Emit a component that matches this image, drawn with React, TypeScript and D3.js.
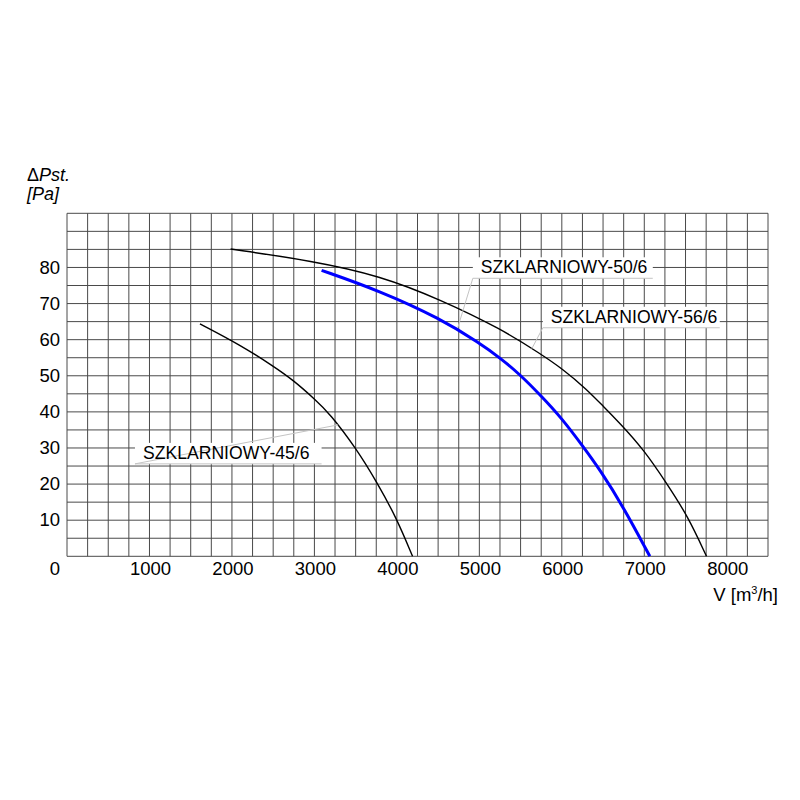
import { useEffect, useRef } from "react"
import * as d3 from "d3"

// flow [m3/h] and static pressure [Pa]
const fan45 = [
  [1612, 64.4], [2097, 58.6], [2500, 52.7], [2743, 48.8], [3000, 43.6], [3188, 39.5],
  [3503, 30.0], [3754, 20.7], [3996, 10.6], [4190, 0],
]
const fan50 = [
  [3087, 79.2], [3794, 73.5], [4521, 65.9], [5006, 59.0], [5248, 55.0], [5491, 50.4],
  [5754, 44.3], [5996, 38.3], [6258, 30.4], [6461, 24.0], [6743, 13.8], [7067, 0],
]
const fan56 = [
  [1984, 85.1], [2985, 81.8], [3794, 77.7], [4521, 71.2], [5269, 62.9], [5733, 56.2],
  [6016, 51.8], [6299, 46.3], [6501, 41.6], [6703, 36.9], [6995, 29.5], [7269, 20.3],
  [7531, 11.0], [7754, 0],
]

const xTicks = [1000, 2000, 3000, 4000, 5000, 6000, 7000, 8000]
const yTicks = [10, 20, 30, 40, 50, 60, 70, 80]

// label text, underline start/end (data x), underline level, leader target
const labels = [
  { text: "SZKLARNIOWY-45/6", x0: 824, x1: 3087, y: 25.6, tx: 3288, ty: 36.4 },
  { text: "SZKLARNIOWY-50/6", x0: 4921, x1: 7103, y: 77.0, tx: 4739, ty: 63.4 },
  { text: "SZKLARNIOWY-56/6", x0: 5770, x1: 7915, y: 63.3, tx: 5636, ty: 57.5 },
]

export default function App() {
  const svgRef = useRef<SVGSVGElement>(null)

  useEffect(() => {
    if (!svgRef.current) return
    const svg = d3.select(svgRef.current)
    svg.selectAll("*").remove()

    const left = 67, right = 768, top = 213.3, bottom = 556.3
    const x = d3.scaleLinear().domain([0, 8500]).range([left, right])
    const y = d3.scaleLinear().domain([0, 95]).range([bottom, top])
    const font = "'Liberation Sans', Arial, sans-serif"

    svg.append("rect").attr("width", 800).attr("height", 800).attr("fill", "#fff")

    const grid = svg.append("g").attr("stroke", "#4a4a4a").attr("stroke-width", 1)
    grid.selectAll(".gx")
      .data(d3.range(0, 8501, 250))
      .join("line")
      .attr("x1", (d) => x(d)).attr("x2", (d) => x(d))
      .attr("y1", top).attr("y2", bottom)
    grid.selectAll(".gy")
      .data(d3.range(0, 96, 5))
      .join("line")
      .attr("x1", left).attr("x2", right)
      .attr("y1", (d) => y(d)).attr("y2", (d) => y(d))

    // tick labels
    const txt = svg.append("g").attr("font-family", font).attr("font-size", 18.5).attr("fill", "#000")
    txt.selectAll(".yt")
      .data(yTicks)
      .join("text")
      .attr("x", 60).attr("y", (d) => y(d)).attr("dy", "0.34em")
      .attr("text-anchor", "end")
      .text((d) => d)
    txt.append("text").attr("x", 60).attr("y", 575).attr("text-anchor", "end").text("0")
    txt.selectAll(".xt")
      .data(xTicks)
      .join("text")
      .attr("x", (d) => x(d) + 1).attr("y", 575)
      .attr("text-anchor", "middle")
      .text((d) => d)

    // axis titles
    const yt = svg.append("g").attr("font-family", font).attr("font-size", 18)
    const t1 = yt.append("text").attr("x", 27).attr("y", 181)
    t1.append("tspan").text("\u0394")
    t1.append("tspan").attr("font-style", "italic").text("Pst.")
    yt.append("text").attr("x", 27).attr("y", 200).attr("font-style", "italic").text("[Pa]")

    const xt = svg.append("text").attr("font-family", font).attr("font-size", 18.5)
      .attr("x", 778).attr("y", 600.5).attr("text-anchor", "end")
    xt.append("tspan").text("V [m")
    xt.append("tspan").attr("font-size", 11).attr("dy", -7).text("3")
    xt.append("tspan").attr("dy", 7).text("/h]")

    // curves
    const line = d3.line<number[]>()
      .x((d) => x(d[0]))
      .y((d) => y(d[1]))
      .curve(d3.curveBasis)
    svg.append("path").attr("d", line(fan45)).attr("fill", "none").attr("stroke", "#000").attr("stroke-width", 1.4)
    svg.append("path").attr("d", line(fan56)).attr("fill", "none").attr("stroke", "#000").attr("stroke-width", 1.4)
    svg.append("path").attr("d", line(fan50)).attr("fill", "none").attr("stroke", "#0000ff").attr("stroke-width", 3)

    // labels
    const lg = svg.append("g")
    labels.forEach((l) => {
      lg.append("rect")
        .attr("x", x(l.x0)).attr("y", y(l.y) - 21)
        .attr("width", x(l.x1) - x(l.x0)).attr("height", 21)
        .attr("fill", "#fff")
      lg.append("path")
        .attr("d", `M${x(l.x1)},${y(l.y)}H${x(l.x0)}L${x(l.tx)},${y(l.ty)}`)
        .attr("fill", "none").attr("stroke", "#c4c4c4").attr("stroke-width", 1)
      lg.append("text")
        .attr("x", x(l.x0) + 8).attr("y", y(l.y) - 5)
        .attr("font-family", font).attr("font-size", 17.6).attr("fill", "#000")
        .text(l.text)
    })
  }, [])

  return (
    <svg
      ref={svgRef}
      width={800}
      height={800}
      style={{ position: "absolute", left: 0, top: 0 }}
    />
  )
}
